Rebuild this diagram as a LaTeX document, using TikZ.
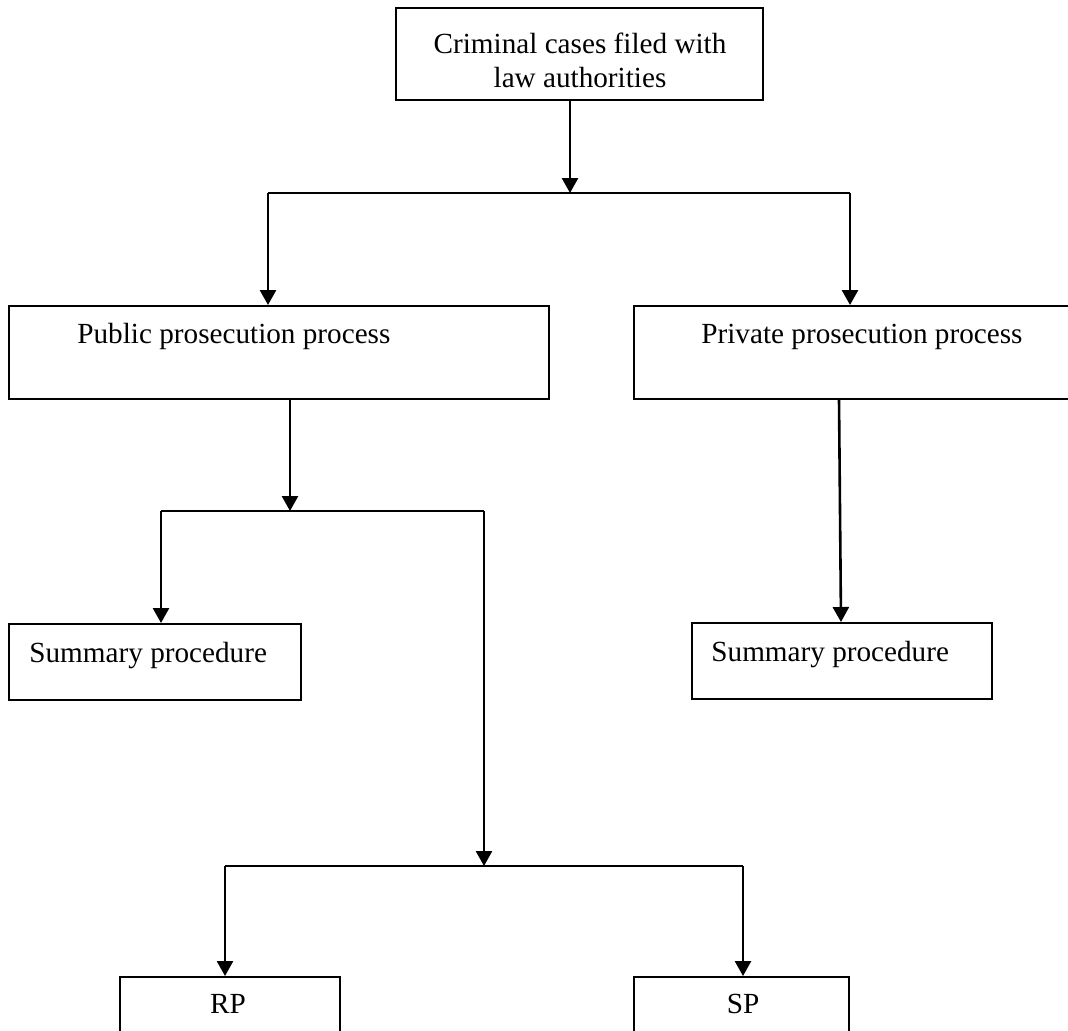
\documentclass[tikz,border=0pt]{standalone}
\usepackage{fontspec}
\setmainfont{Liberation Serif}
\usetikzlibrary{arrows.meta,fit}
\begin{document}
\begin{tikzpicture}[x=0.5pt,y=-0.5pt,
  box/.style={draw, line width=1pt, inner sep=0pt},
  lbl/.style={font=\fontsize{14.6}{17}\selectfont, inner sep=0pt},
  conn/.style={line width=1.3pt},
  arr/.style={conn, -{Triangle[length=7.5pt,width=8pt]}}]
\path[use as bounding box] (0,0) rectangle (1068,1030);
\clip (0,0) rectangle (1068,1030);
% boxes
\node[box, fit={(396,8) (763,100)}] (top) {};
\node[box, fit={(9,306) (549,399)}] (pub) {};
\node[box, fit={(634,306) (1075,399)}] (priv) {};
\node[box, fit={(9,624) (301,700)}] (sum1) {};
\node[box, fit={(692,623) (992,699)}] (sum2) {};
\node[box, fit={(120,977) (340,1060)}] (rp) {};
\node[box, fit={(634,977) (849,1060)}] (sp) {};
% texts
\node[lbl, align=center, anchor=north] (toptxt) at (580,33) {Criminal cases filed with\\law authorities};
\node[lbl, anchor=base west] (pubtxt) at (77,343) {Public prosecution process};
\node[lbl, anchor=base west] (privtxt) at (701,343) {Private prosecution process};
\node[lbl, anchor=base west] (sum1txt) at (29,662) {Summary procedure};
\node[lbl, anchor=base west] (sum2txt) at (711,661) {Summary procedure};
\node[lbl, anchor=base] (rptxt) at (228,1013) {RP};
\node[lbl, anchor=base] (sptxt) at (743,1013) {SP};
% junction coordinates
\coordinate (j1) at (570,193);
\coordinate (j1L) at (268,193);
\coordinate (j1R) at (850,193);
\coordinate (j2) at (290,511);
\coordinate (j2L) at (161,511);
\coordinate (j2R) at (484,511);
\coordinate (j3) at (484,866);
\coordinate (j3L) at (225,866);
\coordinate (j3R) at (743,866);
\coordinate (pvA) at (839,0);
\coordinate (pvB) at (841,0);
% connectors
\draw[arr] (top.south -| j1) -- (j1);
\draw[conn] (j1L) -- (j1R);
\draw[arr] (j1L) -- (j1L |- pub.north);
\draw[arr] (j1R) -- (j1R |- priv.north);
\draw[arr] (pub.south -| j2) -- (j2);
\draw[conn] (j2L) -- (j2R);
\draw[arr] (j2L) -- (j2L |- sum1.north);
\draw[arr] (j2R) -- (j3);
\draw[conn] (j3L) -- (j3R);
\draw[arr] (j3L) -- (j3L |- rp.north);
\draw[arr] (j3R) -- (j3R |- sp.north);
\draw[arr] (priv.south -| pvA) -- (sum2.north -| pvB);
\end{tikzpicture}
\end{document}
